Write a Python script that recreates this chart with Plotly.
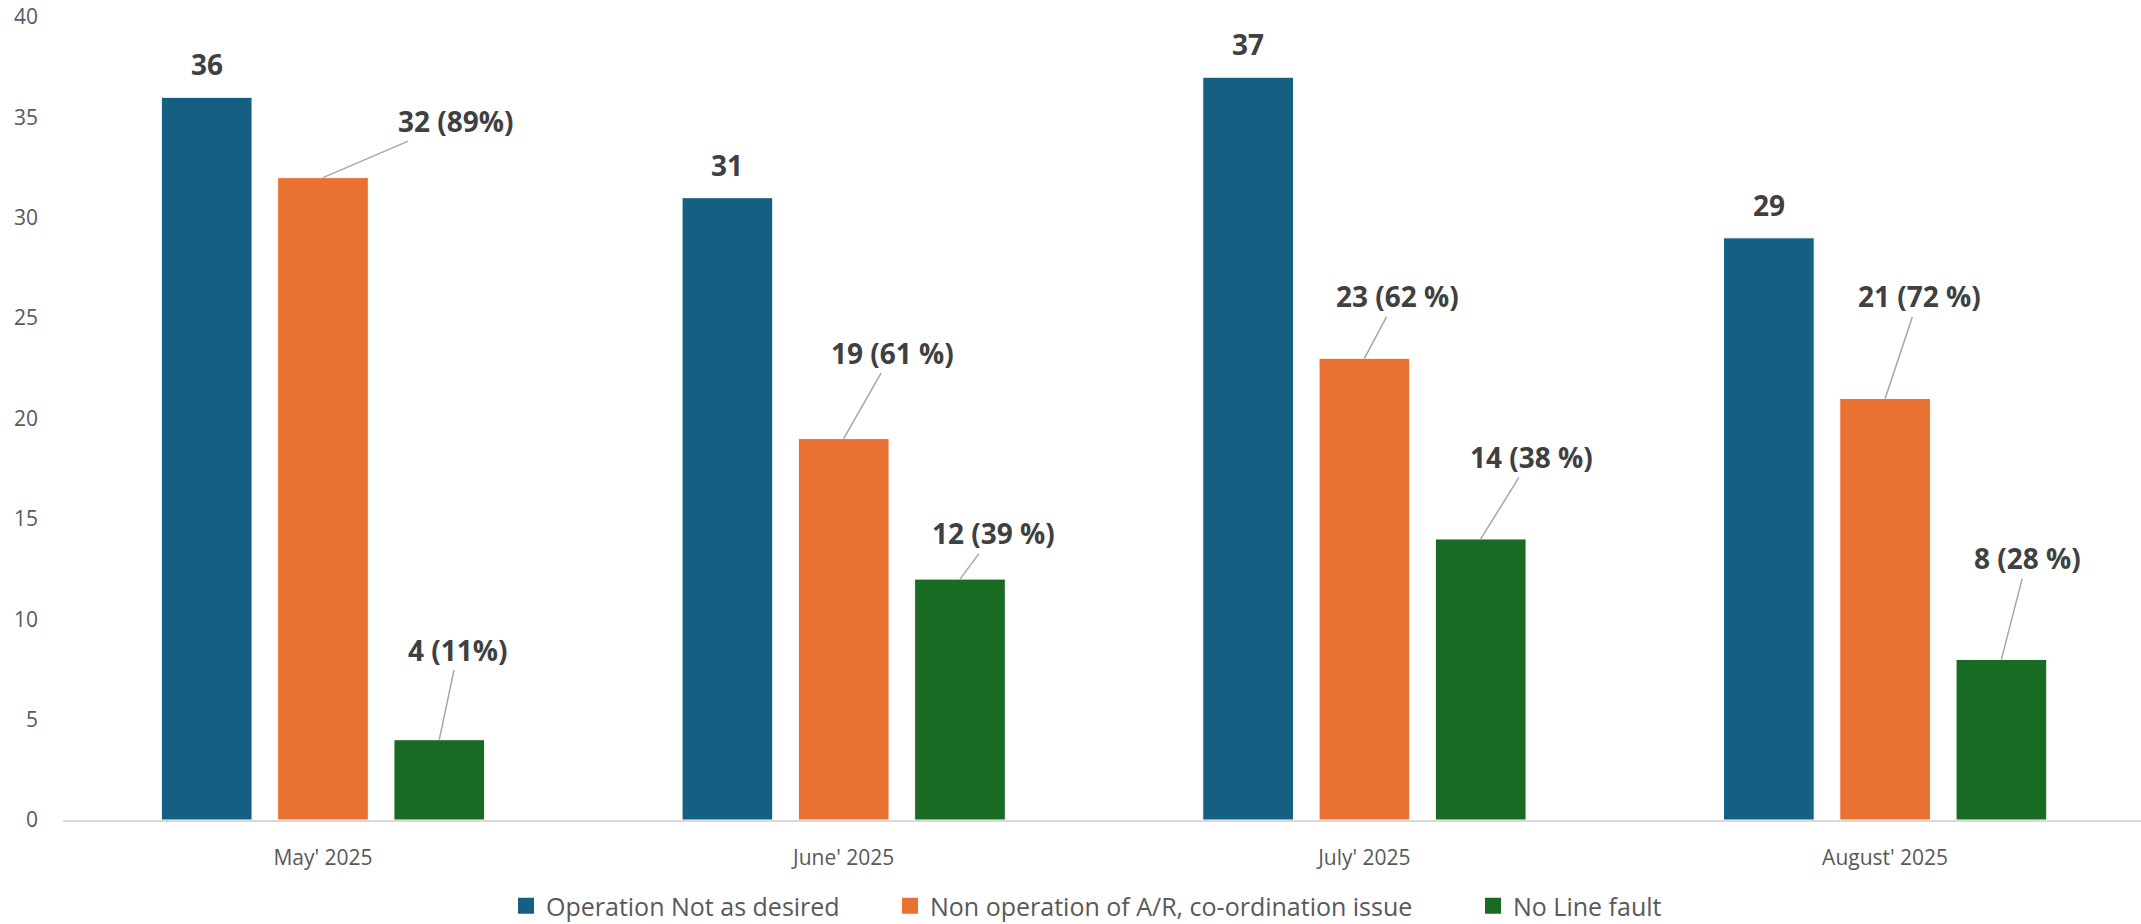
import plotly.graph_objects as go

# ---------------- data ----------------
months = ["May' 2025", "June' 2025", "July' 2025", "August' 2025"]
series_names = [
    "Operation Not as desired",
    "Non operation of A/R, co-ordination issue",
    "No Line fault",
]
op_not_desired = [36, 31, 37, 29]
non_operation_ar = [32, 19, 23, 21]
no_line_fault = [4, 12, 14, 8]
non_operation_labels = ["32 (89%)", "19 (61 %)", "23 (62 %)", "21 (72 %)"]
no_line_fault_labels = ["4 (11%)", "12 (39 %)", "14 (38 %)", "8 (28 %)"]
y_ticks = [0, 5, 10, 15, 20, 25, 30, 35, 40]

# ---------------- style ----------------
colors = ["#156082", "#E97132", "#196B24"]
FONT = "Open Sans"
BARGAP = 0.33
BARGROUPGAP = 0.22
slot = (1 - BARGAP) / 3
W, H = 2141, 924
X_RANGE = [-0.4993, 3.4914]
# label offsets in pixels (dx, dy) from bar-top centre
orange_offsets = [(133, -57), (49, -86), (33, -62), (34, -102)]
green_offsets = [(19, -90), (34, -46), (51, -82), (26, -101)]
# left edge (px) of each legend entry
legend_left = [506, 890, 1473]
legend_keys = ["legend", "legend2", "legend3"]

x_idx = list(range(len(months)))
values = [op_not_desired, non_operation_ar, no_line_fault]

fig = go.Figure()
for k, (name, vals) in enumerate(zip(series_names, values)):
    fig.add_trace(go.Bar(
        x=x_idx, y=vals, name=name, showlegend=False,
        marker=dict(color=colors[k], line=dict(color="white", width=1)),
        hoverinfo="y",
    ))
# legend entries (square swatches)
for k, name in enumerate(series_names):
    fig.add_trace(go.Scatter(
        x=[None], y=[None], mode="markers", name=name, legend=legend_keys[k],
        marker=dict(symbol="square", size=16, color=colors[k]),
        showlegend=True, hoverinfo="skip",
    ))

annotations = []
# blue labels centred above bars
for i, v in zip(x_idx, op_not_desired):
    annotations.append(dict(
        x=i - slot, y=v, xref="x", yref="y", text=f"<b>{v}</b>",
        showarrow=False, yanchor="middle", yshift=33,
        font=dict(family=FONT, size=28, color="#404040"),
    ))
# leader-line labels
for offs, vals, labels, kk in [
    (orange_offsets, non_operation_ar, non_operation_labels, 0),
    (green_offsets, no_line_fault, no_line_fault_labels, 1),
]:
    for i, v, lab, (dx, dy) in zip(x_idx, vals, labels, offs):
        annotations.append(dict(
            x=i + kk * slot, y=v, xref="x", yref="y", text=f"<b>{lab}</b>",
            showarrow=True, arrowhead=0, arrowwidth=1.5, arrowcolor="#A6A6A6",
            standoff=0, ax=dx, ay=dy,
            font=dict(family=FONT, size=28, color="#404040"),
        ))

legend_common = dict(
    orientation="h", xref="container", yref="container",
    xanchor="left", y=18 / H, yanchor="middle",
    font=dict(family=FONT, size=25, color="#595959"),
    bgcolor="rgba(0,0,0,0)",
)

fig.update_layout(
    width=W, height=H,
    margin=dict(l=63, r=0, t=17, b=104),
    paper_bgcolor="white", plot_bgcolor="white",
    barmode="group", bargap=BARGAP, bargroupgap=BARGROUPGAP,
    font=dict(family=FONT, color="#595959"),
    annotations=annotations,
    showlegend=True,
    legend=dict(x=legend_left[0] / W, **legend_common),
    legend2=dict(x=legend_left[1] / W, **legend_common),
    legend3=dict(x=legend_left[2] / W, **legend_common),
    xaxis=dict(
        range=X_RANGE, tickmode="array", tickvals=x_idx, ticktext=months,
        showgrid=False, zeroline=False, showline=True,
        linecolor="#D9D9D9", linewidth=2, ticks="",
        tickfont=dict(family=FONT, size=21, color="#595959"),
        ticklabelstandoff=18,
    ),
    yaxis=dict(
        range=[0, 40], tickmode="array", tickvals=y_ticks,
        showgrid=False, zeroline=False, showline=False, ticks="",
        tickfont=dict(family=FONT, size=21, color="#595959"),
        ticklabelstandoff=24,
    ),
)

fig.write_html(
    "out.html",
    config={"displayModeBar": False},
    post_script="document.body.style.margin='0px';document.body.style.overflow='hidden';",
)
